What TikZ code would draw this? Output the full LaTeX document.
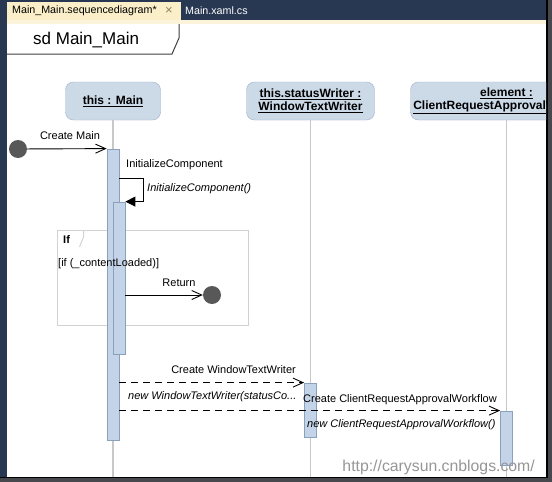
\documentclass[tikz,border=0pt]{standalone}
\usepackage{fontspec}
\setmainfont{Liberation Sans}
\usetikzlibrary{arrows.meta,positioning}

\definecolor{navy}{RGB}{41,56,82}
\definecolor{tabbeige}{RGB}{250,239,200}
\definecolor{stripbeige}{RGB}{252,244,218}
\definecolor{headfill}{RGB}{204,218,232}
\definecolor{headline}{RGB}{158,178,200}
\definecolor{actfill}{RGB}{196,212,232}
\definecolor{actline}{RGB}{138,160,188}
\definecolor{lifegray}{RGB}{200,200,200}
\definecolor{fraggray}{RGB}{210,210,210}
\definecolor{dotgray}{RGB}{88,88,88}
\definecolor{markgray}{RGB}{150,150,150}
\definecolor{edgegray}{RGB}{70,72,78}
\definecolor{closegray}{RGB}{140,130,100}

\tikzset{
  lifehead/.style={draw=headline, fill=headfill, rounded corners=8pt, minimum height=38pt,
    align=center, inner sep=0pt, font=\fontsize{12}{14}\selectfont\bfseries},
  lifeline/.style={draw=lifegray, line width=1.2pt},
  actbar/.style={draw=actline, fill=actfill, minimum width=12pt, inner sep=0pt, line width=0.8pt},
  fragbox/.style={draw=fraggray, line width=1pt, inner sep=0pt},
  msglabel/.style={font=\fontsize{11}{12}\selectfont, inner sep=0pt},
  msgcall/.style={font=\fontsize{11}{12}\selectfont\itshape, inner sep=0pt},
  enddot/.style={circle, fill=dotgray, minimum size=18pt, inner sep=0pt},
  msg/.style={draw=black, line width=0.9pt},
  newmsg/.style={msg, dash pattern=on 7pt off 5pt},
  openarr/.style={-{Straight Barb[length=10pt,width=9pt]}},
  fillarr/.style={-{Triangle[length=10pt,width=10pt]}}
}

\begin{document}
\begin{tikzpicture}[x=1pt,y=1pt,yscale=-1]
\useasboundingbox (0,0) rectangle (552,482);

%Shape: window and tab bar
\fill[white] (0,0) rectangle (552,482);
\fill[navy] (0,0) rectangle (547,20);
\fill[navy] (0,0) rectangle (7,482);
\fill[tabbeige] (7,2) rectangle (181,20);
\fill[stripbeige] (7,20) rectangle (546,24);
\fill[edgegray] (547,0) rectangle (552,482);
\fill[edgegray] (0,478) rectangle (552,482);
\draw[black, line width=1.5pt] (547,0) -- (547,477.5) -- (0,477.5);

% Text Node
\node[anchor=west, inner sep=0pt, font=\fontsize{10.7}{12}\selectfont] (tabOne) at (12,11) {Main\_Main.sequencediagram*};
\node[anchor=west, inner sep=0pt, text=closegray, font=\fontsize{13}{13}\selectfont] (tabClose) at (165,11) {×};
\node[anchor=west, inner sep=0pt, text=white, font=\fontsize{10.7}{12}\selectfont] (tabTwo) at (185,11) {Main.xaml.cs};

%Shape: sd frame
\draw[black!75, line width=1pt] (179,24) -- (179,38) -- (172,54) -- (7,54);
\node[anchor=west, inner sep=0pt, font=\fontsize{17}{18}\selectfont] (sdTitle) at (33,40) {sd Main\_Main};

%Lifeline heads
\node[lifehead, minimum width=95pt] (mainHead) at (113,101) {\underline{this : Main}};
\node[lifehead, minimum width=128pt] (writerHead) at (310.5,101) {\underline{this.statusWriter :}\\[-1pt]\underline{WindowTextWriter}};
\begin{scope}
  \clip (0,0) rectangle (546,482);
  \node[lifehead, minimum width=192pt] (elemHead) at (506.5,101) {\underline{element :}\\[-1pt]\underline{ClientRequestApprovalWorkflow}};
\end{scope}

%Lifelines
\coordinate (mainEnd) at (113,477);
\coordinate (writerEnd) at (310.5,477);
\coordinate (elemEnd) at (506.5,477);
\draw[lifeline] (mainHead) -- (mainEnd);
\draw[lifeline] (writerHead) -- (writerEnd);
\draw[lifeline] (elemHead) -- (elemEnd);

%Shape: If fragment
\node[fragbox, minimum width=191pt, minimum height=95pt] (ifFrag) at (152.5,278) {};
\draw[fraggray, line width=1pt] (ifFrag.north west) ++(27,0) -- ++(0,7) -- ++(-4,10);

%Activation bars
\node[actbar, minimum height=291pt] (actMain) at (113,294.5) {};
\node[actbar, minimum height=152pt] (actInit) at (119,278) {};
\node[actbar, minimum height=54pt] (actWriter) at (310.5,410) {};
\node[actbar, minimum height=54pt] (actElem) at (506.5,438) {};

% Text Node
\node[anchor=west, inner sep=0pt, font=\fontsize{11}{12}\selectfont\bfseries] (ifTag) at (63,240) {If};
\node[msglabel, anchor=west] (ifGuard) at (58,263.5) {[if (\_contentLoaded)]};

%Found message
\node[enddot] (startDot) at (18,149) {};
\draw[msg, openarr] (startDot) -- (actMain.north west);
\node[msglabel] (createMainLbl) at (70,136) {Create Main};

%Self call
\coordinate (initOut) at (actMain.east |- 0,178);
\draw[msg, fillarr] (initOut) -- ++(24,0) |- (actInit.north east);
\node[msglabel, anchor=west] (initLbl) at (126,165) {InitializeComponent};
\node[msgcall, anchor=west] (initCall) at (147,188.5) {InitializeComponent()};

%Return
\coordinate (retOut) at (actInit.east |- 0,295);
\node[enddot] (returnDot) at (212,295) {};
\draw[msg, openarr] (retOut) -- (returnDot);
\node[msglabel] (returnLbl) at (179,282.5) {Return};

%Create messages
\coordinate (newWriterOut) at (actMain.east |- actWriter.north);
\draw[newmsg, openarr] (newWriterOut) -- (actWriter.north west);
\node[msglabel, anchor=east] (newWriterLbl) at (296,370) {Create WindowTextWriter};
\node[msgcall, anchor=west] (newWriterCall) at (128,397) {new WindowTextWriter(statusCo...};

\coordinate (newElemOut) at (actMain.east |- actElem.north);
\draw[newmsg, openarr] (newElemOut) -- (actElem.north west);
\node[msglabel, anchor=west] (newElemLbl) at (303,399.5) {Create ClientRequestApprovalWorkflow};
\node[msgcall, anchor=west] (newElemCall) at (307,425) {new ClientRequestApprovalWorkflow()};

% Text Node
\node[anchor=east, inner sep=0pt, text=markgray, font=\fontsize{15.8}{17}\selectfont] (watermark) at (535,467.5) {http://carysun.cnblogs.com/};
\end{tikzpicture}
\end{document}
